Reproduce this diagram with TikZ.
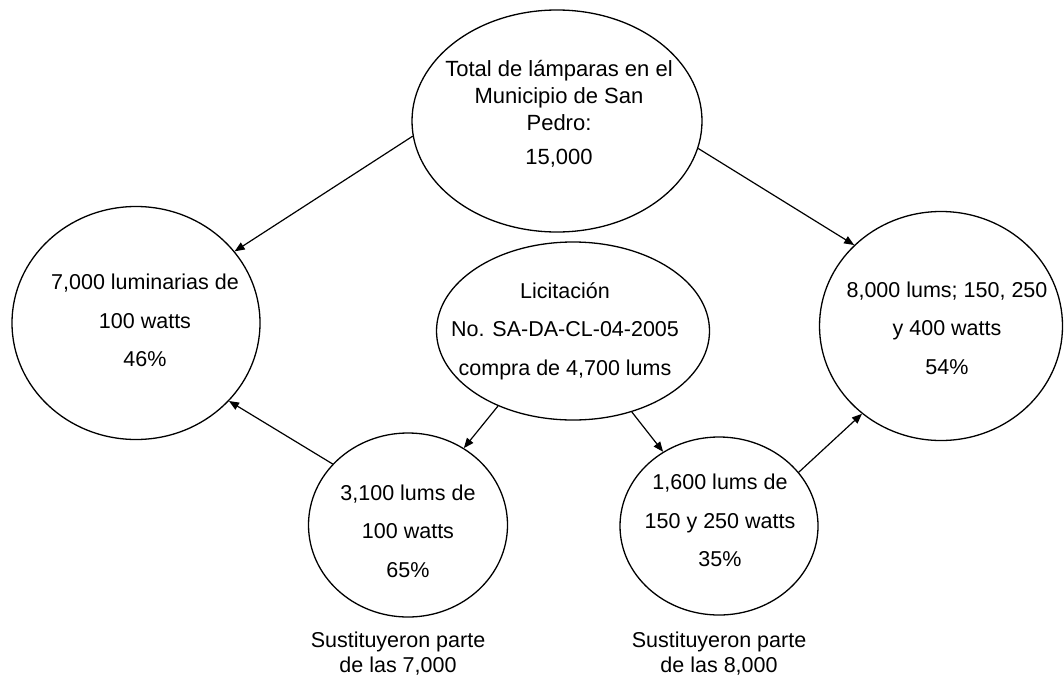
\documentclass[tikz,border=0pt]{standalone}
\usepackage{fontspec}
\setsansfont{Liberation Sans}
\usetikzlibrary{arrows.meta, shapes.geometric}
\tikzset{
  every picture/.style={font=\sffamily, line width=1.3pt},
  lamp/.style={draw, ellipse, inner sep=0pt},
  lbl/.style={align=center, font=\sffamily\fontsize{21.5}{38.5}\selectfont},
  arrow/.style={-{Triangle[length=10pt, width=8pt]}, line width=1.2pt},
  note/.style={align=center, font=\sffamily\fontsize{21.5}{25}\selectfont},
}

\begin{document}
\begin{tikzpicture}[x=1pt, y=-1pt]
  \useasboundingbox (0,0) rectangle (1064,677);
  % total and the two groups
  \node[lamp, minimum width=290pt, minimum height=222pt] (total) at (557,121) {};
  \node[lamp, minimum width=248pt, minimum height=233pt] (w100) at (136,323) {};
  \node[lamp, minimum width=243pt, minimum height=229pt] (w400) at (941,326) {};
  % tender and replacements
  \node[lamp, minimum width=273pt, minimum height=178pt] (licit) at (573,331) {};
  \node[lamp, minimum width=199pt, minimum height=184pt] (rep100) at (408,525) {};
  \node[lamp, minimum width=198pt, minimum height=178pt] (rep250) at (719,526) {};
  % texts
  \node[lbl, font=\sffamily\fontsize{22}{27}\selectfont] (ttotal) at (559,114) {Total de lámparas en el\\Municipio de San\\Pedro:\\[6.5pt]15,000};
  \node[lbl] (tw100) at (145,320.5) {7,000 luminarias de\\100 watts\\46\%};
  \node[lbl] (tw400) at (947,328) {8,000 lums; 150, 250\\y 400 watts\\54\%};
  \node[lbl] (tlicit) at (565,331) {Licitación\\No. SA-DA-CL-04-2005\\compra de 4,700 lums};
  \node[lbl] (trep100) at (408,531) {3,100 lums de\\100 watts\\65\%};
  \node[lbl] (trep250) at (720,520.5) {1,600 lums de\\150 y 250 watts\\35\%};
  \node[note] (n100) at (398,654) {Sustituyeron parte\\de las 7,000};
  \node[note] (n250) at (719,654) {Sustituyeron parte\\de las 8,000};
  % arrows
  \draw[arrow] (total.186.8) -- (w100.36.4);
  \draw[arrow] (total.349.2) -- (w400.137.8);
  \draw[arrow] (rep100.141.3) -- (w100.320.7);
  \draw[arrow] (rep250.34) -- (w400.228.7);
  \draw[arrow] (licit.225.3) -- (rep100.54);
  \draw[arrow] (licit.306.4) -- (rep250.127.1);
\end{tikzpicture}
\end{document}
